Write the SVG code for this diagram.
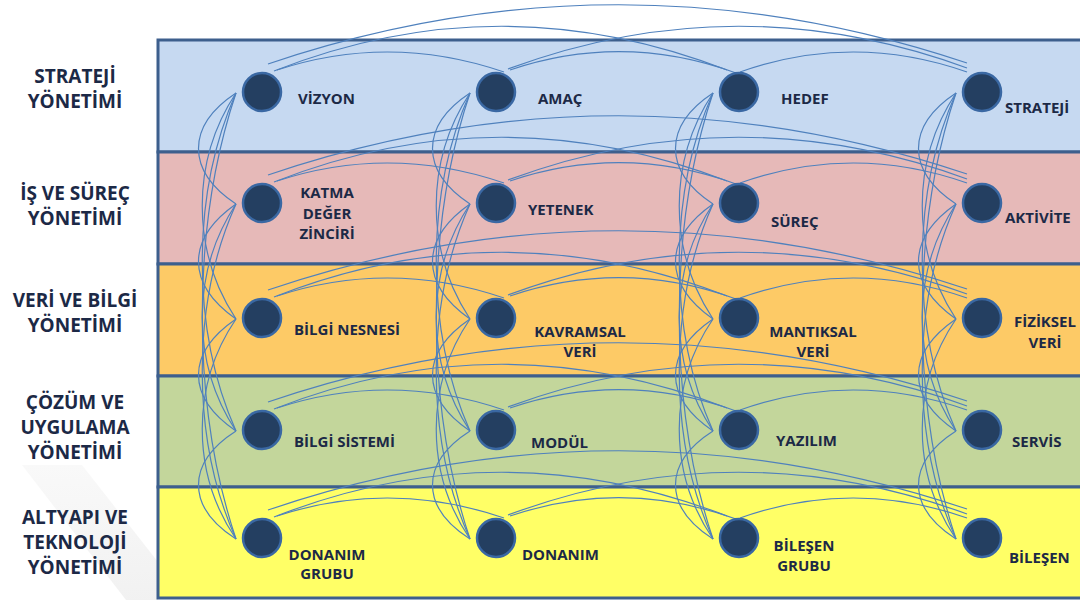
<svg xmlns="http://www.w3.org/2000/svg" xmlns:xlink="http://www.w3.org/1999/xlink" width="1080" height="601" viewBox="0 0 1080 601">
  <style>
    .band { stroke: #3d5f8d; stroke-width: 3; }
    .layer { font-family: "Open Sans", "Liberation Sans", sans-serif; font-weight: 700; font-size: 19px; fill: #1c2946; text-anchor: middle; }
    .lbl { font-family: "Open Sans", "Liberation Sans", sans-serif; font-weight: 700; font-size: 15px; fill: #1c2946; }
    .mid { text-anchor: middle; }
    .dot { fill: #243f61; stroke: #3a68a3; stroke-width: 2.5; }
    .link { fill: none; stroke: #4f81bd; stroke-width: 1.2; }
  </style>
  <defs>
    <linearGradient id="shade" x1="0" y1="0" x2="0" y2="1">
      <stop offset="0" stop-color="#f5f5f5"/>
      <stop offset="1" stop-color="#e8e8e8"/>
    </linearGradient>
    <!-- arcs between the four nodes of one row; y is relative to the row centre -->
    <g id="rowArcs" class="link">
      <path d="M277,-22 Q390,-59 504,-20"/>
      <path d="M274,-21 Q500,-110 727,-22"/>
      <path d="M268,-28 Q617,-146 967,-29"/>
      <path d="M510,-22 Q623,-60 736,-19"/>
      <path d="M508,-23 Q737,-108 967,-24"/>
      <path d="M740,-20 Q853,-60 967,-20"/>
    </g>
    <!-- arcs between the five nodes of one column; x is relative to the column centre -->
    <g id="colArcs" class="link">
      <path d="M-26,93 C-76,126 -76,171 -26,204"/>
      <path d="M-26,93 C-71,161 -71,251 -26,319"/>
      <path d="M-26,93 C-71,194 -71,330 -26,431"/>
      <path d="M-26,93 C-71,227 -71,405 -26,539"/>
      <path d="M-26,204 C-76,239 -76,284 -26,319"/>
      <path d="M-26,204 C-71,272 -71,363 -26,431"/>
      <path d="M-26,204 C-71,304 -71,439 -26,539"/>
      <path d="M-26,319 C-76,353 -76,397 -26,431"/>
      <path d="M-26,319 C-71,385 -71,473 -26,539"/>
      <path d="M-26,431 C-76,463 -76,507 -26,539"/>
    </g>
  </defs>

  <rect width="1080" height="601" fill="#ffffff"/>

  <!-- soft shadow under the layer titles -->
  <polygon points="22,465 82,465 158,562 158,600 126,600" fill="url(#shade)" opacity="0.6"/>

  <!-- layer bands -->
  <g id="bands">
    <rect class="band" x="158" y="40" width="940" height="112" fill="#c6d9f1"/>
    <rect class="band" x="158" y="152" width="940" height="112" fill="#e6b9b8"/>
    <rect class="band" x="158" y="264" width="940" height="112" fill="#fdca66"/>
    <rect class="band" x="158" y="376" width="940" height="111" fill="#c3d69b"/>
    <rect class="band" x="158" y="487" width="940" height="111" fill="#ffff66"/>
  </g>

  <!-- layer titles -->
  <g id="layer-strateji"><text class="layer" x="75" y="83">STRATEJİ</text><text class="layer" x="75" y="108">YÖNETİMİ</text></g>
  <g id="layer-is"><text class="layer" x="75" y="200">İŞ VE SÜREÇ</text><text class="layer" x="75" y="225">YÖNETİMİ</text></g>
  <g id="layer-veri"><text class="layer" x="75" y="307">VERİ VE BİLGİ</text><text class="layer" x="75" y="332">YÖNETİMİ</text></g>
  <g id="layer-cozum"><text class="layer" x="75" y="409">ÇÖZÜM VE</text><text class="layer" x="75" y="434">UYGULAMA</text><text class="layer" x="75" y="459">YÖNETİMİ</text></g>
  <g id="layer-altyapi"><text class="layer" x="75" y="524">ALTYAPI VE</text><text class="layer" x="75" y="549">TEKNOLOJİ</text><text class="layer" x="75" y="574">YÖNETİMİ</text></g>

  <!-- connectors -->
  <g id="connectors">
    <use xlink:href="#rowArcs" transform="translate(0,92)"/>
    <use xlink:href="#rowArcs" transform="translate(0,203)"/>
    <use xlink:href="#rowArcs" transform="translate(0,318)"/>
    <use xlink:href="#rowArcs" transform="translate(0,430)"/>
    <use xlink:href="#rowArcs" transform="translate(0,538)"/>
    <use xlink:href="#colArcs" transform="translate(262,0)"/>
    <use xlink:href="#colArcs" transform="translate(496,0)"/>
    <use xlink:href="#colArcs" transform="translate(739,0)"/>
    <use xlink:href="#colArcs" transform="translate(982,0)"/>
  </g>

  <!-- nodes -->
  <g id="vizyon"><circle class="dot" cx="262" cy="92" r="19"/><text class="lbl" x="298" y="104">VİZYON</text></g>
  <g id="amac"><circle class="dot" cx="496" cy="92" r="19"/><text class="lbl" x="538" y="104">AMAÇ</text></g>
  <g id="hedef"><circle class="dot" cx="739" cy="92" r="19"/><text class="lbl" x="781" y="104">HEDEF</text></g>
  <g id="strateji"><circle class="dot" cx="982" cy="92" r="19"/><text class="lbl" x="1005" y="113">STRATEJİ</text></g>

  <g id="katma-deger-zinciri"><circle class="dot" cx="262" cy="203" r="19"/><text class="lbl mid" x="327" y="198">KATMA</text><text class="lbl mid" x="327" y="219">DEĞER</text><text class="lbl mid" x="327" y="239">ZİNCİRİ</text></g>
  <g id="yetenek"><circle class="dot" cx="496" cy="203" r="19"/><text class="lbl" x="528" y="215">YETENEK</text></g>
  <g id="surec"><circle class="dot" cx="739" cy="203" r="19"/><text class="lbl" x="771" y="227">SÜREÇ</text></g>
  <g id="aktivite"><circle class="dot" cx="982" cy="203" r="19"/><text class="lbl" x="1005" y="223">AKTİVİTE</text></g>

  <g id="bilgi-nesnesi"><circle class="dot" cx="262" cy="318" r="19"/><text class="lbl" x="294" y="335">BİLGİ NESNESİ</text></g>
  <g id="kavramsal-veri"><circle class="dot" cx="496" cy="318" r="19"/><text class="lbl mid" x="580" y="337">KAVRAMSAL</text><text class="lbl mid" x="580" y="357">VERİ</text></g>
  <g id="mantiksal-veri"><circle class="dot" cx="739" cy="318" r="19"/><text class="lbl mid" x="813" y="337">MANTIKSAL</text><text class="lbl mid" x="813" y="357">VERİ</text></g>
  <g id="fiziksel-veri"><circle class="dot" cx="982" cy="318" r="19"/><text class="lbl mid" x="1045" y="327">FİZİKSEL</text><text class="lbl mid" x="1045" y="348">VERİ</text></g>

  <g id="bilgi-sistemi"><circle class="dot" cx="262" cy="430" r="19"/><text class="lbl" x="294" y="447">BİLGİ SİSTEMİ</text></g>
  <g id="modul"><circle class="dot" cx="496" cy="430" r="19"/><text class="lbl" x="531" y="448">MODÜL</text></g>
  <g id="yazilim"><circle class="dot" cx="739" cy="430" r="19"/><text class="lbl" x="776" y="446">YAZILIM</text></g>
  <g id="servis"><circle class="dot" cx="982" cy="430" r="19"/><text class="lbl" x="1012" y="447">SERVİS</text></g>

  <g id="donanim-grubu"><circle class="dot" cx="262" cy="538" r="19"/><text class="lbl mid" x="327" y="560">DONANIM</text><text class="lbl mid" x="327" y="579">GRUBU</text></g>
  <g id="donanim"><circle class="dot" cx="496" cy="538" r="19"/><text class="lbl" x="522" y="560">DONANIM</text></g>
  <g id="bilesen-grubu"><circle class="dot" cx="739" cy="538" r="19"/><text class="lbl mid" x="804" y="551">BİLEŞEN</text><text class="lbl mid" x="804" y="571">GRUBU</text></g>
  <g id="bilesen"><circle class="dot" cx="982" cy="538" r="19"/><text class="lbl" x="1009" y="563">BİLEŞEN</text></g>
</svg>
